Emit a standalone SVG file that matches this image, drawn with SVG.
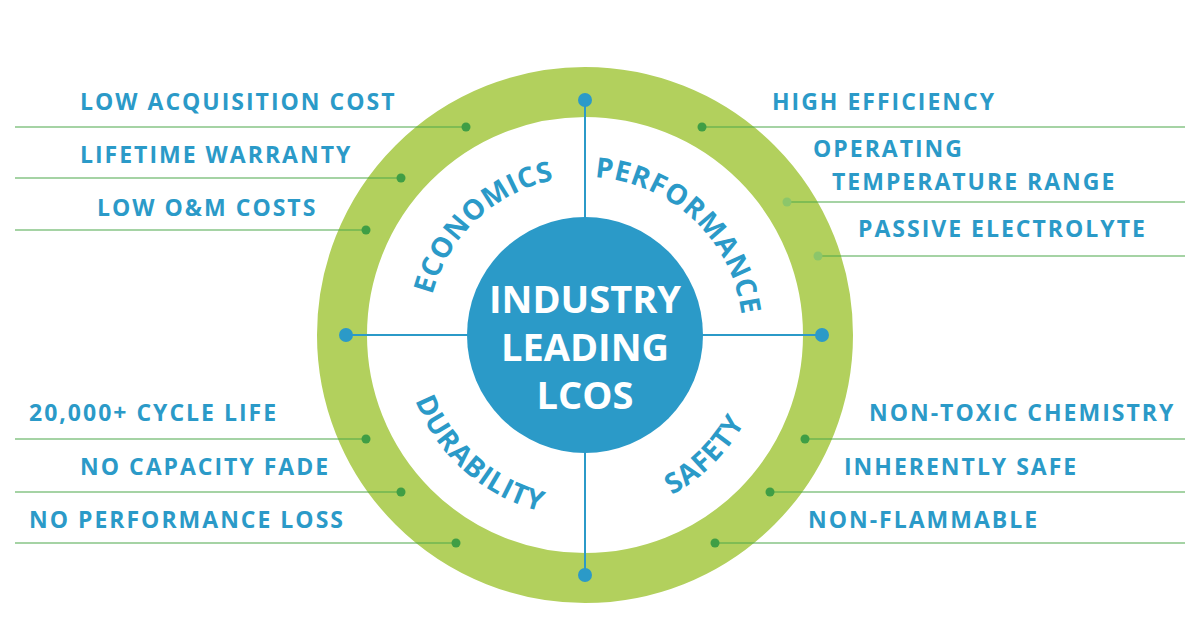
<svg xmlns="http://www.w3.org/2000/svg" width="1200" height="632" viewBox="0 0 1200 632">
<style>
.lbl{font-family:"Open Sans","Liberation Sans",sans-serif;font-weight:700;font-size:23px;fill:#2b9ac8;letter-spacing:2px}
.arc{font-family:"Open Sans","Liberation Sans",sans-serif;font-weight:700;font-size:28px;fill:#2b9ac8;letter-spacing:0.8px}
.ctr{font-family:"Open Sans","Liberation Sans",sans-serif;font-weight:700;font-size:38px;fill:#fff}
.ln{stroke:#4da84a;stroke-width:1.2;fill:none}
.dot{fill:#3f9e45}
.bl{stroke:#2b9ac8;stroke-width:2}
.bd{fill:#2b9ac8}
</style>
<defs>
<path id="top" d="M427,335 A158,158 0 0 1 743,335"/>
<path id="bot" d="M403,335 A182,182 0 0 0 767,335"/>
</defs>
<rect width="1200" height="632" fill="#fff"/>
<g id="ring"><circle cx="585" cy="335" r="243" fill="none" stroke="#b2d05d" stroke-width="50"/></g>
<g id="connectors">
<line class="ln" x1="15" y1="127" x2="466" y2="127"/>
<line class="ln" x1="15" y1="178" x2="401" y2="178"/>
<line class="ln" x1="15" y1="230" x2="366" y2="230"/>
<line class="ln" x1="15" y1="439" x2="366" y2="439"/>
<line class="ln" x1="15" y1="492" x2="401" y2="492"/>
<line class="ln" x1="15" y1="543" x2="456" y2="543"/>
<line class="ln" x1="702" y1="127" x2="1185" y2="127"/>
<line class="ln" x1="787" y1="202" x2="1185" y2="202" stroke="#8cc66a"/>
<line class="ln" x1="818" y1="256" x2="1185" y2="256" stroke="#8cc66a"/>
<line class="ln" x1="805" y1="439" x2="1185" y2="439"/>
<line class="ln" x1="770" y1="492" x2="1185" y2="492"/>
<line class="ln" x1="715" y1="543" x2="1185" y2="543"/>
<line class="bl" x1="585" y1="100" x2="585" y2="575"/>
<line class="bl" x1="346" y1="335" x2="822" y2="335"/>
<circle class="dot" cx="466" cy="127" r="4.5"/>
<circle class="dot" cx="401" cy="178" r="4.5"/>
<circle class="dot" cx="366" cy="230" r="4.5"/>
<circle class="dot" cx="366" cy="439" r="4.5"/>
<circle class="dot" cx="401" cy="492" r="4.5"/>
<circle class="dot" cx="456" cy="543" r="4.5"/>
<circle class="dot" cx="702" cy="127" r="4.5"/>
<circle cx="787" cy="202" r="4.5" fill="#8cc66a"/>
<circle cx="818" cy="256" r="4.5" fill="#8cc66a"/>
<circle class="dot" cx="805" cy="439" r="4.5"/>
<circle class="dot" cx="770" cy="492" r="4.5"/>
<circle class="dot" cx="715" cy="543" r="4.5"/>
<circle class="bd" cx="585" cy="100" r="7"/>
<circle class="bd" cx="585" cy="575" r="7"/>
<circle class="bd" cx="346" cy="335" r="7"/>
<circle class="bd" cx="822" cy="335" r="7"/>
</g>
<g id="center"><circle cx="585" cy="335" r="118" fill="#2b9ac8"/>
<text class="ctr" x="585" y="313" text-anchor="middle">INDUSTRY</text>
<text class="ctr" x="585" y="361" text-anchor="middle">LEADING</text>
<text class="ctr" x="585" y="409" text-anchor="middle">LCOS</text></g>
<g id="categories">
<text class="arc" text-anchor="middle"><textPath href="#top" startOffset="26%">ECONOMICS</textPath></text>
<text class="arc" text-anchor="middle"><textPath href="#top" startOffset="74%">PERFORMANCE</textPath></text>
<text class="arc" text-anchor="middle"><textPath href="#bot" startOffset="27%">DURABILITY</textPath></text>
<text class="arc" text-anchor="middle"><textPath href="#bot" startOffset="75%">SAFETY</textPath></text>
</g>
<g id="labels">
<text class="lbl" x="80" y="110">LOW ACQUISITION COST</text>
<text class="lbl" x="80" y="163">LIFETIME WARRANTY</text>
<text class="lbl" x="97" y="216">LOW O&amp;M COSTS</text>
<text class="lbl" x="29" y="421">20,000+ CYCLE LIFE</text>
<text class="lbl" x="80" y="475">NO CAPACITY FADE</text>
<text class="lbl" x="29" y="528">NO PERFORMANCE LOSS</text>
<text class="lbl" x="772" y="110">HIGH EFFICIENCY</text>
<text class="lbl" x="813" y="157">OPERATING</text>
<text class="lbl" x="832" y="190">TEMPERATURE RANGE</text>
<text class="lbl" x="858" y="237">PASSIVE ELECTROLYTE</text>
<text class="lbl" x="869" y="421">NON-TOXIC CHEMISTRY</text>
<text class="lbl" x="844" y="475">INHERENTLY SAFE</text>
<text class="lbl" x="808" y="528">NON-FLAMMABLE</text>
</g>
</svg>
